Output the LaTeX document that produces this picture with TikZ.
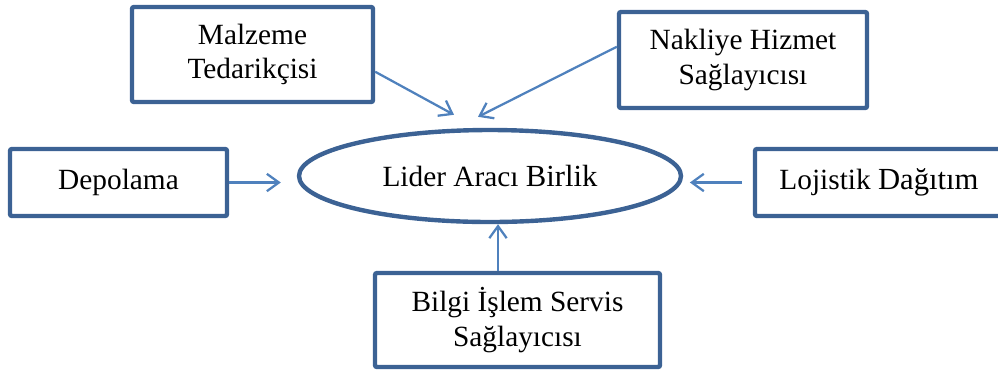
\documentclass[tikz,border=0pt]{standalone}
\usepackage{fontspec}
\setmainfont{Liberation Serif}
\usetikzlibrary{arrows.meta, shapes.geometric, calc}
\definecolor{boxline}{HTML}{3C6294}
\definecolor{arrline}{HTML}{4F81BD}

\begin{document}
\begin{tikzpicture}[
    x=0.75pt, y=-0.75pt,
    >={Straight Barb[length=9pt,width=13pt]},
    box/.style={draw=boxline, line width=3.3pt, rounded corners=1.5pt, align=center,
                inner sep=2pt, font=\fontsize{22}{26}\selectfont},
    hub/.style={ellipse, draw=boxline, line width=3.3pt, inner sep=0pt,
                minimum width=286.5pt, minimum height=69pt, font=\fontsize{22}{26}\selectfont},
    arr/.style={->, draw=arrline, line width=1.7pt}]
    \useasboundingbox (0,0) rectangle (998,376);
    \node[hub] (lider) at (490,176) {Lider Aracı {\fontsize{23}{26}\selectfont Birlik}};
    \node[box, minimum width=180.75pt, minimum height=71.25pt] (malz) at (252.5,54.5) {Malzeme\\Tedarikçisi};
    \node[box, minimum width=186pt, minimum height=72pt] (nak) at (743,60) {Nakliye Hizmet\\Sağlayıcısı};
    \node[box, minimum width=162.75pt, minimum height=50.25pt] (depo) at (118.5,182.5) {Depolama};
    \node[box, minimum width=186pt, minimum height=50.25pt] (loj) at (879,182.5) {Lojistik {\fontsize{23}{26}\selectfont Dağıtım}};
    \node[box, minimum width=213.75pt, minimum height=70.5pt] (bilgi) at (517.5,320) {Bilgi İşlem Servis\\Sağlayıcısı};
    \coordinate (bt) at ($(lider.south)+(8,0)$);
    % arrows into the hub
    \draw[arr] (malz.-8) -- ($(lider.north)+(-36,-13)$);
    \draw[arr] (nak.174) -- ($(lider.north)+(-12,-11)$);
    \draw[arr, shorten >=12pt] (depo.east) -- (depo.east -| lider.west);
    \draw[arr, shorten <=8pt, shorten >=5pt] (loj.west) -- (loj.west -| lider.east);
    \draw[arr] (bilgi.north -| bt) -- (bt);
\end{tikzpicture}
\end{document}
